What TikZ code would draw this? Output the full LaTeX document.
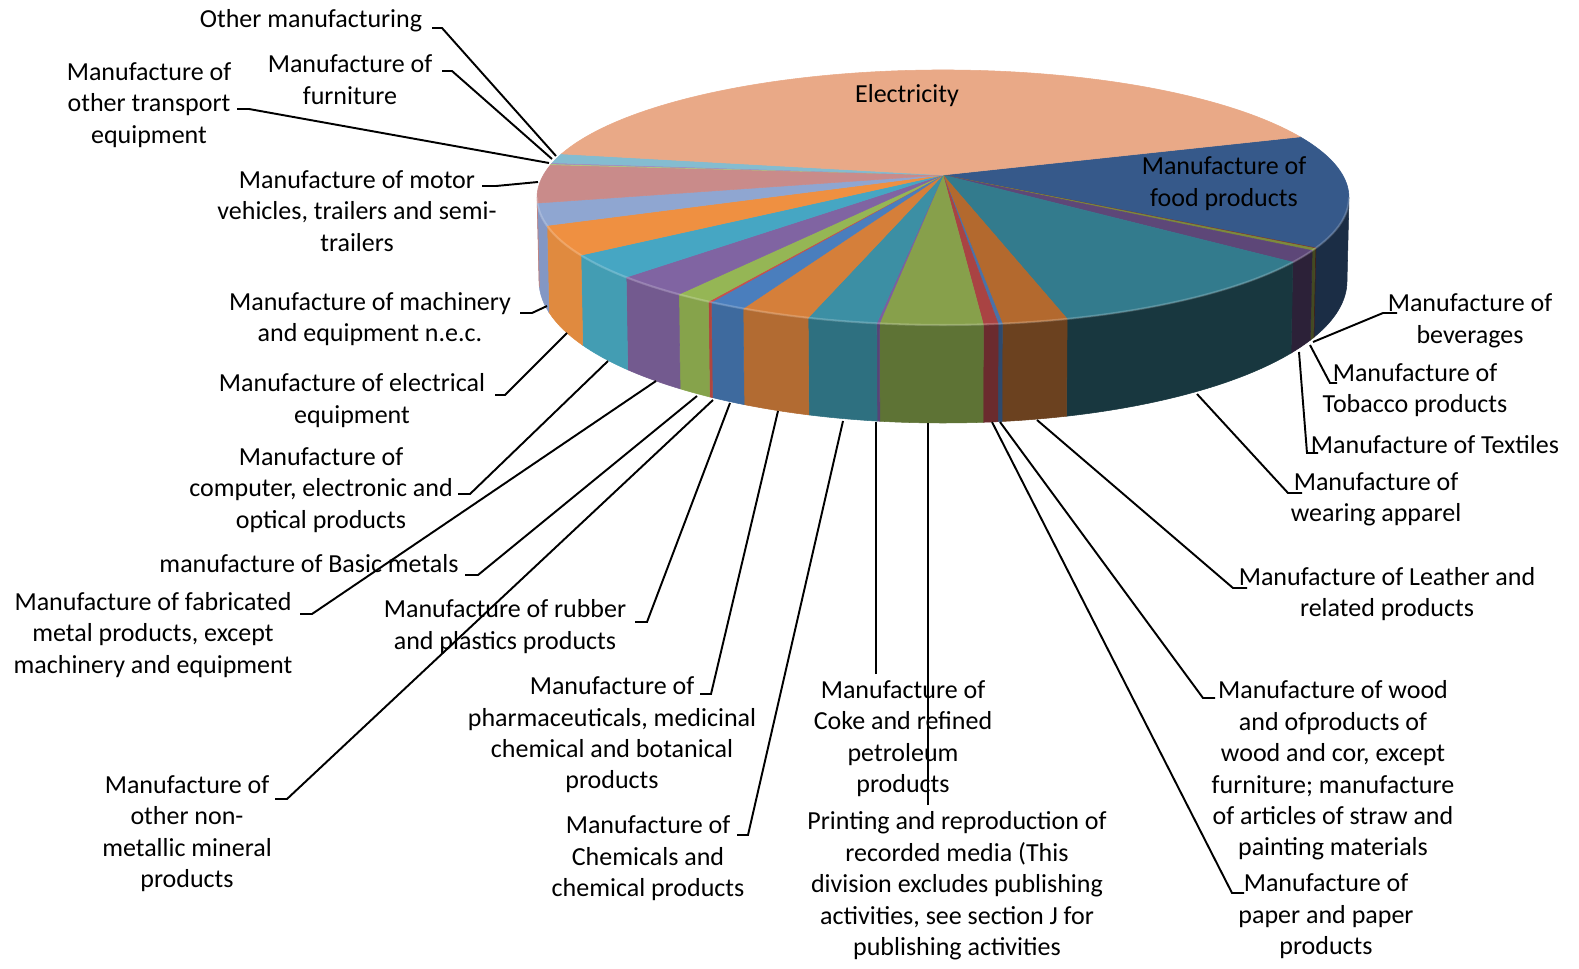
\documentclass[tikz,border=0pt]{standalone}
\usepackage{fontspec}
\setmainfont{Carlito}
\usepackage{xcolor}
\usetikzlibrary{calc}

% slice colours (top face / side face)
\definecolor{elecT}{HTML}{E9A987}
\definecolor{foodT}{HTML}{36598A}\definecolor{foodS}{HTML}{1B2D45}
\definecolor{bevT}{HTML}{7A3533}\definecolor{bevS}{HTML}{3E1C1C}
\definecolor{tobT}{HTML}{7D8B3B}\definecolor{tobS}{HTML}{434A22}
\definecolor{texT}{HTML}{5D4778}\definecolor{texS}{HTML}{2C2138}
\definecolor{appT}{HTML}{337B8D}\definecolor{appS}{HTML}{18373F}
\definecolor{leaT}{HTML}{B3692E}\definecolor{leaS}{HTML}{6B411F}
\definecolor{woodT}{HTML}{4A72A8}\definecolor{woodS}{HTML}{2E4A6E}
\definecolor{papT}{HTML}{A94343}\definecolor{papS}{HTML}{6B2B2E}
\definecolor{prnT}{HTML}{87A04B}\definecolor{prnS}{HTML}{5E7335}
\definecolor{cokT}{HTML}{7B5FA0}\definecolor{cokS}{HTML}{574478}
\definecolor{chmT}{HTML}{3C8FA4}\definecolor{chmS}{HTML}{2E7080}
\definecolor{phaT}{HTML}{D57F3A}\definecolor{phaS}{HTML}{B26B32}
\definecolor{rubT}{HTML}{4A7EBD}\definecolor{rubS}{HTML}{3E6A9E}
\definecolor{nonT}{HTML}{C7504C}\definecolor{nonS}{HTML}{B0453F}
\definecolor{basT}{HTML}{95B655}\definecolor{basS}{HTML}{86A34B}
\definecolor{fabT}{HTML}{8064A2}\definecolor{fabS}{HTML}{735A8F}
\definecolor{cmpT}{HTML}{46A6C3}\definecolor{cmpS}{HTML}{439DB3}
\definecolor{elqT}{HTML}{EF9041}\definecolor{elqS}{HTML}{E08A3F}
\definecolor{macT}{HTML}{8FA6D1}\definecolor{macS}{HTML}{8397C4}
\definecolor{motT}{HTML}{C98B8A}\definecolor{motS}{HTML}{BE8483}
\definecolor{traT}{HTML}{B0C97C}
\definecolor{furT}{HTML}{A08EBF}
\definecolor{othT}{HTML}{84BCD0}

% wedge of the top face, and band of the front wall
\newcommand{\topslice}[3]{\path[fill=#3, draw=#3, line width=0.3pt] (V) -- ($(Ct)+(#1:406 and 127.5)$) arc[start angle=#1, end angle=#2, x radius=406, y radius=127.5] -- cycle;}
\newcommand{\sideslice}[3]{\path[fill=#3, draw=#3, line width=0.3pt] ($(Ct)+(#1:406 and 127.5)$) arc[start angle=#1, end angle=#2, x radius=406, y radius=127.5] -- ($(Cb)+(#2:404 and 142)$) arc[start angle=#2, end angle=#1, x radius=404, y radius=142] -- cycle;}

\begin{document}
\begin{tikzpicture}[x=0.02cm, y=-0.02cm,
  lbl/.style={align=center, inner sep=0pt, font=\fontsize{14.8}{17.9}\selectfont},
  leader/.style={line width=1.1pt, black}]

  \useasboundingbox (0,0) rectangle (1579,969);
  \fill[white] (0,0) rectangle (1579,969);

  % Centres of the pie
  \coordinate (V) at (943,175);
  \coordinate (Ct) at (943,197.5);
  \coordinate (Cb) at (943,281);

  % Front wall
  \sideslice{0}{23.3}{foodS}
  \sideslice{23.3}{23.55}{bevS}
  \sideslice{23.55}{24.6}{tobS}
  \sideslice{24.6}{30.5}{texS}
  \sideslice{30.5}{72.2}{appS}
  \sideslice{72.2}{81.6}{leaS}
  \sideslice{81.6}{82.2}{woodS}
  \sideslice{82.2}{84.3}{papS}
  \sideslice{84.3}{99.0}{prnS}
  \sideslice{99.0}{99.4}{cokS}
  \sideslice{99.4}{109.4}{chmS}
  \sideslice{109.4}{119.5}{phaS}
  \sideslice{119.5}{124.8}{rubS}
  \sideslice{124.8}{125.3}{nonS}
  \sideslice{125.3}{130.6}{basS}
  \sideslice{130.6}{141.3}{fabS}
  \sideslice{141.3}{153.1}{cmpS}
  \sideslice{153.1}{167.3}{elqS}
  \sideslice{167.3}{177.5}{macS}
  \sideslice{177.5}{180}{motS}

  % Top face
  \topslice{-28.4}{23.3}{foodT}
  \topslice{23.3}{23.55}{bevT}
  \topslice{23.55}{24.6}{tobT}
  \topslice{24.6}{30.5}{texT}
  \topslice{30.5}{72.2}{appT}
  \topslice{72.2}{81.6}{leaT}
  \topslice{81.6}{82.2}{woodT}
  \topslice{82.2}{84.3}{papT}
  \topslice{84.3}{99.0}{prnT}
  \topslice{99.0}{99.4}{cokT}
  \topslice{99.4}{109.4}{chmT}
  \topslice{109.4}{119.5}{phaT}
  \topslice{119.5}{124.8}{rubT}
  \topslice{124.8}{125.3}{nonT}
  \topslice{125.3}{130.6}{basT}
  \topslice{130.6}{141.3}{fabT}
  \topslice{141.3}{153.1}{cmpT}
  \topslice{153.1}{167.3}{elqT}
  \topslice{167.3}{177.5}{macT}
  \topslice{177.5}{194.9}{motT}
  \topslice{194.9}{195.3}{traT}
  \topslice{195.3}{195.8}{furT}
  \topslice{195.8}{200}{othT}
  \topslice{200}{331.6}{elecT}

  % light rim on the front edge
  \draw[white, opacity=0.2, line width=1.2pt] ($(Ct)+(0:406 and 127.5)$) arc[start angle=0, end angle=180, x radius=406, y radius=127.5];

  % Labels
  \node[lbl] (l-elec) at (907,96) {Electricity};
  \node[lbl] (l-food) at (1224,183.5) {Manufacture of\\food products};
  \node[lbl] (l-oth) at (311,21) {Other manufacturing};
  \node[lbl] (l-fur) at (350,79.5) {Manufacture of\\furniture};
  \node[lbl] (l-tra) at (149,105) {Manufacture of\\other transport\\equipment};
  \node[lbl] (l-mot) at (357,211) {Manufacture of motor\\vehicles, trailers and semi-\\trailers};
  \node[lbl] (l-mac) at (370,319) {Manufacture of machinery\\and equipment n.e.c.};
  \node[lbl] (l-elq) at (352,400.5) {Manufacture of electrical\\equipment};
  \node[lbl] (l-cmp) at (321,490) {Manufacture of\\computer, electronic and\\optical products};
  \node[lbl] (l-bas) at (309,564) {manufacture of Basic metals};
  \node[lbl] (l-fab) at (153,635) {Manufacture of fabricated\\metal products, except\\machinery and equipment};
  \node[lbl] (l-rub) at (505,626.5) {Manufacture of rubber\\and plastics products};
  \node[lbl] (l-pha) at (612,735) {Manufacture of\\pharmaceuticals, medicinal\\chemical and botanical\\products};
  \node[lbl] (l-non) at (187,833.5) {Manufacture of\\other non-\\metallic mineral\\products};
  \node[lbl] (l-chm) at (648,858.5) {Manufacture of\\Chemicals and\\chemical products};
  \node[lbl] (l-cok) at (903,738.5) {Manufacture of\\Coke and refined\\petroleum\\products};
  \node[lbl] (l-prn) at (957,886) {Printing and reproduction of\\recorded media (This\\division excludes publishing\\activities, see section J for\\publishing activities};
  \node[lbl] (l-wood) at (1333,770.5) {Manufacture of wood\\and ofproducts of\\wood and cor, except\\furniture; manufacture\\of articles of straw and\\painting materials};
  \node[lbl] (l-pap) at (1326,916.5) {Manufacture of\\paper and paper\\products};
  \node[lbl] (l-lea) at (1387,594) {Manufacture of Leather and\\related products};
  \node[lbl] (l-app) at (1376,499.5) {Manufacture of\\wearing apparel};
  \node[lbl] (l-tex) at (1435,445) {Manufacture of Textiles};
  \node[lbl] (l-tob) at (1415,390) {Manufacture of\\Tobacco products};
  \node[lbl] (l-bev) at (1470,321) {Manufacture of\\beverages};

  % Leader ends at the labels
  \coordinate (a-oth) at (432,28);
  \coordinate (a-fur) at (442,71);
  \coordinate (a-tra) at (237,109);
  \coordinate (a-mot) at (482,186);
  \coordinate (a-mac) at (520,313);
  \coordinate (a-elq) at (495,395);
  \coordinate (a-cmp) at (458,494);
  \coordinate (a-bas) at (465,575);
  \coordinate (a-fab) at (300,614);
  \coordinate (a-rub) at (635,622);
  \coordinate (a-pha) at (700,694);
  \coordinate (a-non) at (275,799);
  \coordinate (a-chm) at (737,835);
  \coordinate (a-cok) at (876,674);
  \coordinate (a-prn) at (928,805);
  \coordinate (a-wood) at (1215,698);
  \coordinate (a-pap) at (1244,893);
  \coordinate (a-lea) at (1247,588);
  \coordinate (a-app) at (1302,493);
  \coordinate (a-tex) at (1318,453);
  \coordinate (a-tob) at (1337,383);
  \coordinate (a-bev) at (1397,313);

  % Leader ends on the pie
  \coordinate (p-oth) at (556,156);
  \coordinate (p-fur) at (552,159);
  \coordinate (p-tra) at (549,163);
  \coordinate (p-mot) at (538,182);
  \coordinate (p-mac) at (547,306);
  \coordinate (p-elq) at (567,333);
  \coordinate (p-cmp) at (608,361);
  \coordinate (p-bas) at (697,396);
  \coordinate (p-fab) at (656,381);
  \coordinate (p-rub) at (730,403);
  \coordinate (p-pha) at (778,411);
  \coordinate (p-non) at (713,400);
  \coordinate (p-chm) at (843,421);
  \coordinate (p-cok) at (876,422);
  \coordinate (p-prn) at (928,423);
  \coordinate (p-wood) at (1000,422);
  \coordinate (p-pap) at (992,422);
  \coordinate (p-lea) at (1037,420);
  \coordinate (p-app) at (1197,394);
  \coordinate (p-tex) at (1299,352);
  \coordinate (p-tob) at (1310,345);
  \coordinate (p-bev) at (1313,342);

  % Leaders on the left
  \draw[leader] (a-oth) -- ++(10,0) -- (p-oth);
  \draw[leader] (a-fur) -- ++(10,0) -- (p-fur);
  \draw[leader] (a-tra) -- ++(12,0) -- (p-tra);
  \draw[leader] (a-mot) -- ++(14,0) -- (p-mot);
  \draw[leader] (a-mac) -- ++(12,0) -- (p-mac);
  \draw[leader] (a-elq) -- ++(10,0) -- (p-elq);
  \draw[leader] (a-cmp) -- ++(12,0) -- (p-cmp);
  \draw[leader] (a-bas) -- ++(13,0) -- (p-bas);
  \draw[leader] (a-fab) -- ++(12,0) -- (p-fab);
  \draw[leader] (a-rub) -- ++(12,0) -- (p-rub);
  \draw[leader] (a-pha) -- ++(11,0) -- (p-pha);
  \draw[leader] (a-non) -- ++(12,0) -- (p-non);
  \draw[leader] (a-chm) -- ++(11,0) -- (p-chm);
  \draw[leader] (a-cok) -- (p-cok);
  \draw[leader] (a-prn) -- (p-prn);

  % Leaders on the right
  \draw[leader] (a-wood) -- ++(-12,0) -- (p-wood);
  \draw[leader] (a-pap) -- ++(-12,0) -- (p-pap);
  \draw[leader] (a-lea) -- ++(-14,0) -- (p-lea);
  \draw[leader] (a-app) -- ++(-14,0) -- (p-app);
  \draw[leader] (a-tex) -- ++(-11,0) -- (p-tex);
  \draw[leader] (a-tob) -- ++(-7,0) -- (p-tob);
  \draw[leader] (a-bev) -- ++(-14,0) -- (p-bev);

\end{tikzpicture}
\end{document}
